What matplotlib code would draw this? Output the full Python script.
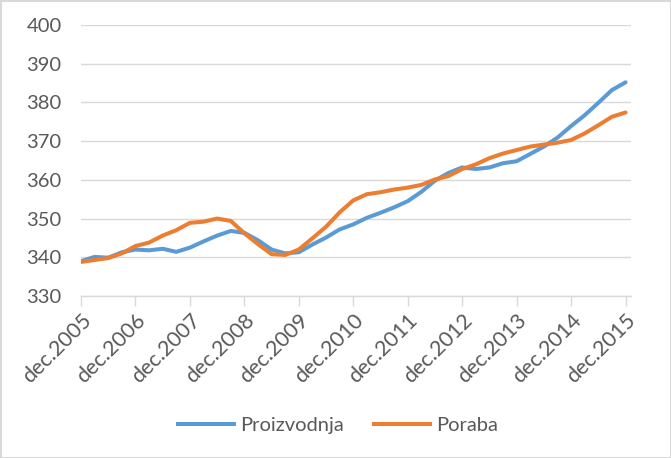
import matplotlib
matplotlib.use("Agg")
import matplotlib.pyplot as plt
from matplotlib.lines import Line2D
from matplotlib.transforms import ScaledTranslation

plt.rcParams['font.family'] = ['Lato', 'DejaVu Sans']

years = list(range(2005, 2016))
tick_labels = [f"dec.{y}" for y in years]

proizvodnja = [339.0, 340.1, 339.9, 341.3, 342.0, 341.8, 342.2, 341.4, 342.5, 344.1,
               345.6, 346.8, 346.3, 344.4, 342.0, 341.0, 341.3, 343.3, 345.1, 347.2,
               348.5, 350.2, 351.5, 352.9, 354.5, 356.9, 359.8, 361.8, 363.2, 362.8,
               363.2, 364.3, 364.8, 366.7, 368.6, 370.9, 373.9, 376.7, 379.9, 383.2,
               385.2]
poraba = [338.8, 339.3, 339.8, 341.0, 342.9, 343.8, 345.6, 347.0, 348.9, 349.2,
          350.0, 349.4, 346.2, 343.4, 340.8, 340.6, 342.0, 344.9, 347.9, 351.6,
          354.7, 356.3, 356.8, 357.5, 358.0, 358.7, 360.1, 361.0, 362.8, 364.0,
          365.6, 366.8, 367.7, 368.6, 369.1, 369.6, 370.3, 372.0, 374.1, 376.3,
          377.4]

blue = '#5B9BD5'
orange = '#ED7D31'
txt = '#595959'
grid = '#D9D9D9'

fig = plt.figure(figsize=(6.71, 4.58), dpi=100)
fig.patch.set_facecolor('white')
ax = fig.add_axes([81/671, 1-296/458, (631-81)/671, (296-25)/458])

x = list(range(len(proizvodnja)))
ax.plot(x, proizvodnja, color=blue, lw=2.9, solid_capstyle='round', solid_joinstyle='round', zorder=3)
ax.plot(x, poraba, color=orange, lw=2.9, solid_capstyle='round', solid_joinstyle='round', zorder=4)

ax.set_xlim(0, 40.4)
ax.set_ylim(330, 400)
ax.set_yticks(range(330, 401, 10))
ax.yaxis.grid(True, color=grid, lw=1)
ax.set_axisbelow(True)
ax.set_xticks([i * 4 for i in range(len(years))])
ax.set_xticklabels(tick_labels, rotation=45, ha='right', va='top', rotation_mode='anchor')
offset = ScaledTranslation(5/100, 0, fig.dpi_scale_trans)
for lab in ax.get_xticklabels():
    lab.set_transform(lab.get_transform() + offset)

for s in ['top', 'right', 'left']:
    ax.spines[s].set_visible(False)
ax.spines['bottom'].set_color(grid)
ax.spines['bottom'].set_linewidth(1)
ax.tick_params(axis='y', length=0, labelsize=14.5, labelcolor=txt, pad=14)
ax.tick_params(axis='x', length=7, color=grid, width=1, labelsize=15.5, labelcolor=txt, pad=3)

handles = [Line2D([0], [0], color=blue, lw=2.9), Line2D([0], [0], color=orange, lw=2.9)]
leg = fig.legend(handles, ['Proizvodnja', 'Poraba'], loc='center', bbox_to_anchor=(338/671, 1-425/458),
                 ncol=2, frameon=False, fontsize=14.5, handlelength=2.8, handletextpad=0.3,
                 columnspacing=1.5)
for t in leg.get_texts():
    t.set_color(txt)

fig.add_artist(plt.Rectangle((0.5/671, 0.5/458), 1-1/671, 1-1/458, transform=fig.transFigure,
                             fill=False, edgecolor=grid, lw=1.5))

fig.savefig('out.png', dpi=100, facecolor='white')
